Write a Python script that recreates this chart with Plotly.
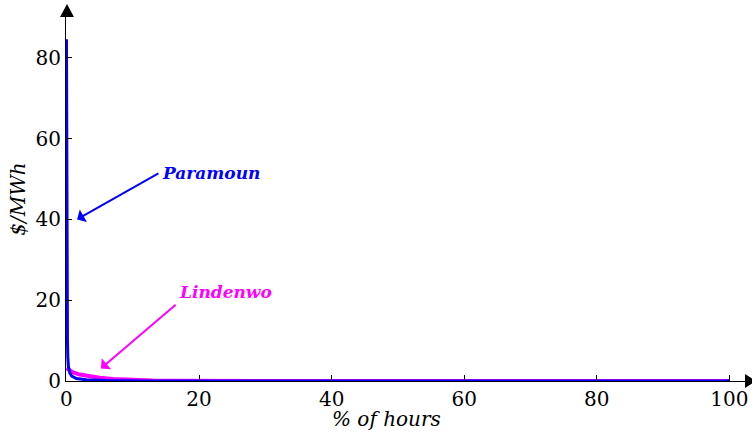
import plotly.graph_objects as go

# Price duration curves: share of hours (%) vs. price ($/MWh)
paramoun_pct = [0, 0.02, 0.05, 0.1, 0.15, 0.2, 0.3, 0.5, 0.8, 1.5, 3, 6, 12, 30, 60, 100]
paramoun_price = [84.6, 60, 35, 18, 10, 6, 3.5, 2.0, 1.2, 0.6, 0.3, 0.12, 0.03, 0.0, 0.0, 0.0]

lindenwo_pct = [0, 0.5, 1, 2, 3, 4, 5, 7, 10, 13, 16, 20, 40, 100]
lindenwo_price = [3.2, 2.5, 2.1, 1.6, 1.25, 1.0, 0.8, 0.5, 0.25, 0.12, 0.05, 0.02, 0.0, 0.0]

y_ticks = [0, 20, 40, 60, 80]
x_ticks = [0, 20, 40, 60, 80, 100]

W, H = 752, 437
L, R, T, B = 66, 4, 17, 56

fig = go.Figure()
fig.add_trace(go.Scatter(x=lindenwo_pct, y=lindenwo_price, mode="lines",
                         line=dict(color="#ff00ff", width=4), name="Lindenwo"))
fig.add_trace(go.Scatter(x=paramoun_pct, y=paramoun_price, mode="lines",
                         line=dict(color="#0000ff", width=3), name="Paramoun"))

serif = "DejaVu Serif"

fig.update_xaxes(range=[-0.07, 102.5], tickvals=x_ticks, ticks="inside", ticklen=6,
                 tickcolor="black", showline=True, linecolor="black", linewidth=1,
                 showgrid=False, zeroline=False,
                 tickfont=dict(family=serif, size=20, color="black"))
fig.update_yaxes(range=[0, 90.1], tickvals=y_ticks, ticks="inside", ticklen=6,
                 tickcolor="black", showline=True, linecolor="black", linewidth=1,
                 showgrid=False, zeroline=False,
                 tickfont=dict(family=serif, size=20, color="black"))

# axis arrowheads
def px(x):
    return (x - L) / (W - L - R)

def py(y):
    return (H - B - y) / (H - T - B)

fig.add_shape(type="path", xref="paper", yref="paper",
              path=f"M {px(60)} {py(17)} L {px(74)} {py(17)} L {px(67)} {py(4)} Z",
              fillcolor="black", line=dict(color="black", width=0))
fig.add_shape(type="path", xref="paper", yref="paper",
              path=f"M {px(747)} {py(374)} L {px(747)} {py(388)} L {px(758)} {py(381)} Z",
              fillcolor="black", line=dict(color="black", width=0))

# series labels with pointers
fig.add_annotation(x=1.6, y=40, ax=14.1, ay=51.6, axref="x", ayref="y", text="",
                   showarrow=True, arrowhead=1, arrowsize=1.2, arrowwidth=2,
                   arrowcolor="#0000ff")
fig.add_annotation(x=14.1, y=51.6, text="<b><i>Paramoun</i></b>", showarrow=False,
                   xanchor="left", yanchor="middle",
                   font=dict(family=serif, size=17, color="#0000ff"))
fig.add_annotation(x=5.2, y=3.1, ax=16.7, ay=19.2, axref="x", ayref="y", text="",
                   showarrow=True, arrowhead=1, arrowsize=1.2, arrowwidth=2,
                   arrowcolor="#ff00ff")
fig.add_annotation(x=16.7, y=22.1, text="<b><i>Lindenwo</i></b>", showarrow=False,
                   xanchor="left", yanchor="middle",
                   font=dict(family=serif, size=17, color="#ff00ff"))

# axis titles
fig.add_annotation(x=48.2, y=-0.105, yref="paper", text="<i>% of hours</i>",
                   showarrow=False, xanchor="center", yanchor="middle",
                   font=dict(family=serif, size=20, color="black"))
fig.add_annotation(x=-0.071, xref="paper", y=0.5, yref="paper", text="<i>$/MWh</i>",
                   showarrow=False, textangle=-90, xanchor="center", yanchor="middle",
                   font=dict(family=serif, size=20, color="black"))

fig.update_layout(width=W, height=H, margin=dict(l=L, r=R, t=T, b=B),
                  plot_bgcolor="white", paper_bgcolor="white", showlegend=False)

fig.write_html("out.html")
